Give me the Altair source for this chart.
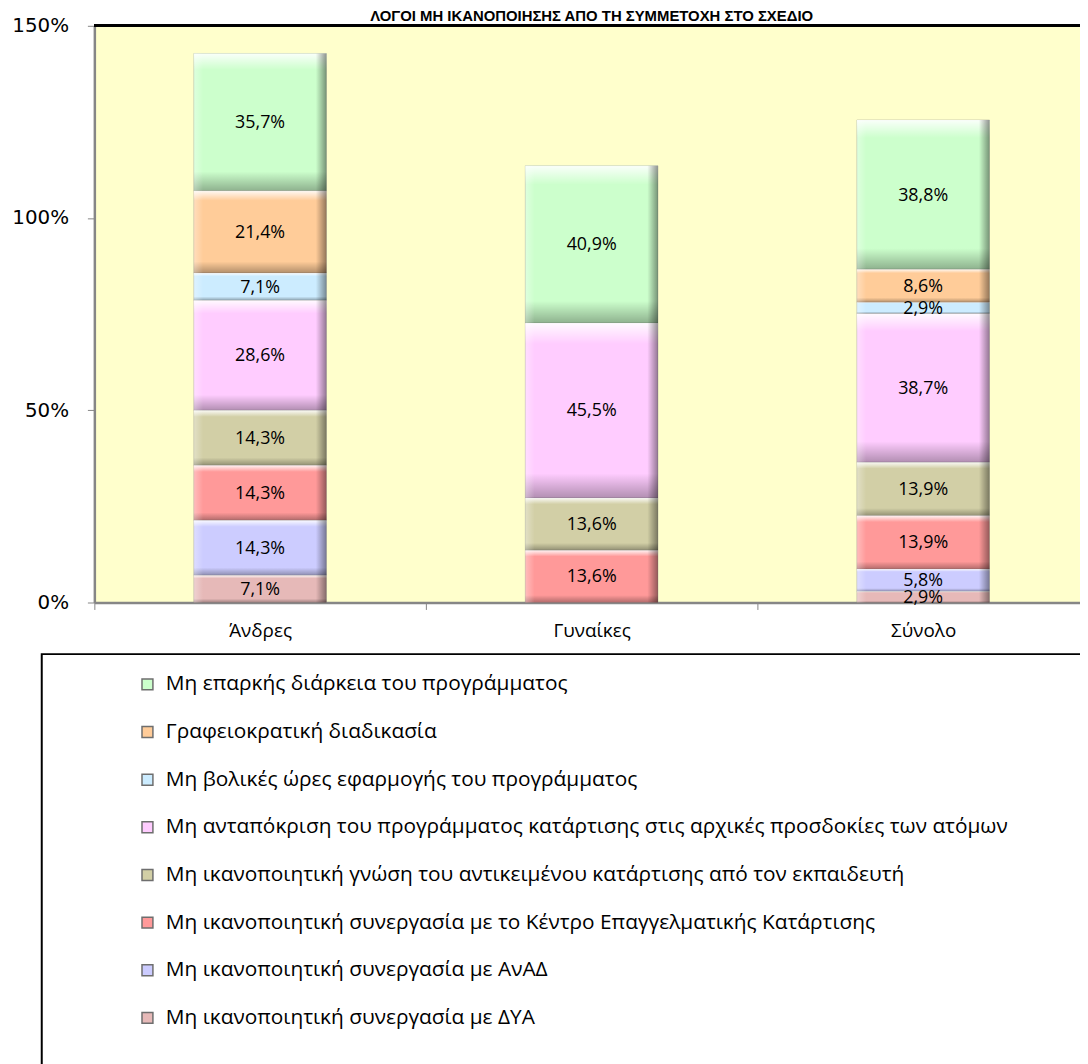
import altair as alt
import pandas as pd

title_text = "ΛΟΓΟΙ ΜΗ ΙΚΑΝΟΠΟΙΗΣΗΣ ΑΠΟ ΤΗ ΣΥΜΜΕΤΟΧΗ ΣΤΟ ΣΧΕΔΙΟ"
categories = ["Άνδρες", "Γυναίκες", "Σύνολο"]
# stack order: bottom -> top
series = [
    "Μη ικανοποιητική συνεργασία με ΔΥΑ",
    "Μη ικανοποιητική συνεργασία με ΑνΑΔ",
    "Μη ικανοποιητική συνεργασία με το Κέντρο Επαγγελματικής Κατάρτισης",
    "Μη ικανοποιητική γνώση του αντικειμένου κατάρτισης από τον εκπαιδευτή",
    "Μη ανταπόκριση του προγράμματος κατάρτισης στις αρχικές προσδοκίες των ατόμων",
    "Μη βολικές ώρες εφαρμογής του προγράμματος",
    "Γραφειοκρατική διαδικασία",
    "Μη επαρκής διάρκεια του προγράμματος",
]
v_dya = [7.1, 0.0, 2.9]
v_anad = [14.3, 0.0, 5.8]
v_kek = [14.3, 13.6, 13.9]
v_ekp = [14.3, 13.6, 13.9]
v_antap = [28.6, 45.5, 38.7]
v_ores = [7.1, 0.0, 2.9]
v_graf = [21.4, 0.0, 8.6]
v_diark = [35.7, 40.9, 38.8]
colors = ["#E6B9B8", "#CCCCFF", "#FF9999", "#D2CFA6",
          "#FFCCFF", "#CCECFF", "#FFCC99", "#CCFFCC"]
y_ticks = [0, 50, 100, 150]
y_max = 150

all_values = [v_dya, v_anad, v_kek, v_ekp, v_antap, v_ores, v_graf, v_diark]
rows = []
for i, (s, vals) in enumerate(zip(series, all_values)):
    for c, v in zip(categories, vals):
        if v > 0:
            rows.append({"category": c, "series": s, "value": v, "idx": i})
df = pd.DataFrame(rows)

legend_order = series[::-1]
legend_colors = colors[::-1]

base = alt.Chart(df)

x_axis = alt.Axis(
    orient="bottom", tickBand="extent", tickSize=7, tickColor="#868686",
    domainColor="#868686", domainWidth=2.5, labelAngle=0,
    labelFont="Open Sans", labelFontSize=19, labelColor="#000000",
    labelPadding=12, grid=False,
)
y_axis = alt.Axis(
    values=y_ticks, labelExpr="datum.value + '%'", grid=False,
    domainColor="#868686", domainWidth=2.5, tickColor="#868686", tickSize=7,
    labelFont="DejaVu Sans", labelFontSize=20, labelColor="#000000",
    labelPadding=19,
)
x_enc = alt.X("category:N", sort=categories, title=None,
              scale=alt.Scale(paddingInner=0, paddingOuter=0), axis=x_axis)
y_scale = alt.Scale(domain=[0, y_max], nice=False)

bars = base.mark_bar(width=alt.RelativeBandSize(0.4), stroke="#7f7f7f",
                     strokeWidth=0.6, strokeOpacity=0.6).encode(
    x=x_enc,
    y=alt.Y("value:Q", stack="zero", title=None, scale=y_scale, axis=y_axis),
    color=alt.Color(
        "series:N",
        scale=alt.Scale(domain=legend_order, range=legend_colors),
        legend=alt.Legend(
            orient="none", legendX=-53, legendY=633, direction="vertical",
            title="\u00a0", titleOrient="right",
            titleFontSize=500, titlePadding=60,
            labelFont="Open Sans", labelFontSize=21, labelColor="#000000",
            labelLimit=3000, symbolType="square", symbolSize=121,
            symbolStrokeWidth=1.5, symbolStrokeColor="#6e6e6e", symbolOpacity=1,
            symbolOffset=76, labelOffset=8, rowPadding=26, padding=20,
            strokeColor="#000000", fillColor="#ffffff",
        ),
    ),
    order=alt.Order("idx:Q", sort="ascending"),
)

grad_v = alt.Gradient(
    gradient="linear", x1=0, x2=0, y1=0, y2=1,
    stops=[
        alt.GradientStop(color="rgba(255,255,255,0.9)", offset=0),
        alt.GradientStop(color="rgba(255,255,255,0)", offset=0.12),
        alt.GradientStop(color="rgba(0,0,0,0)", offset=0.86),
        alt.GradientStop(color="rgba(0,0,0,0.3)", offset=1),
    ],
)
grad_h = alt.Gradient(
    gradient="linear", x1=0, x2=1, y1=0, y2=0,
    stops=[
        alt.GradientStop(color="rgba(255,255,255,0.35)", offset=0),
        alt.GradientStop(color="rgba(255,255,255,0)", offset=0.07),
        alt.GradientStop(color="rgba(0,0,0,0)", offset=0.92),
        alt.GradientStop(color="rgba(0,0,0,0.42)", offset=1),
    ],
)

def overlay(grad):
    return base.mark_bar(width=alt.RelativeBandSize(0.4), color=grad).encode(
        x=x_enc,
        y=alt.Y("value:Q", stack="zero", title=None, scale=y_scale, axis=y_axis),
        detail="series:N",
        order=alt.Order("idx:Q", sort="ascending"),
    )

labels = base.transform_window(
    cum="sum(value)", groupby=["category"],
    sort=[alt.SortField("idx", order="ascending")], frame=[None, 0],
).transform_calculate(
    mid="datum.cum - datum.value / 2",
    label="replace(format(datum.value, '.1f'), '.', ',') + '%'",
).mark_text(font="Open Sans", fontSize=18, color="#000000", baseline="middle", dy=1).encode(
    x=x_enc,
    y=alt.Y("mid:Q", title=None, scale=y_scale, axis=y_axis),
    text="label:N",
)

top_border = alt.Chart(df).mark_rule(color="#000000", strokeWidth=2.5).encode(
    y=alt.Y(datum=y_max, type="quantitative", scale=y_scale, axis=y_axis, title=None),
)

chart = alt.layer(bars, overlay(grad_v), overlay(grad_h), labels, top_border).properties(
    width=1002,
    height=581,
    autosize=alt.AutoSizeParams(type="none"),
    padding={"left": 87, "top": 14, "right": -9, "bottom": 461},
    background="#ffffff",
    title=alt.TitleParams(
        text=title_text, font="Liberation Sans", fontSize=15, fontWeight="bold",
        anchor="middle", frame="group", offset=3, dy=11, color="#000000",
    ),
).configure_view(
    fill="#FFFFCC", strokeWidth=0
).configure_legend(
    strokeWidth=2
)

chart.save("out.html", embed_options={"renderer": "svg", "actions": False})
